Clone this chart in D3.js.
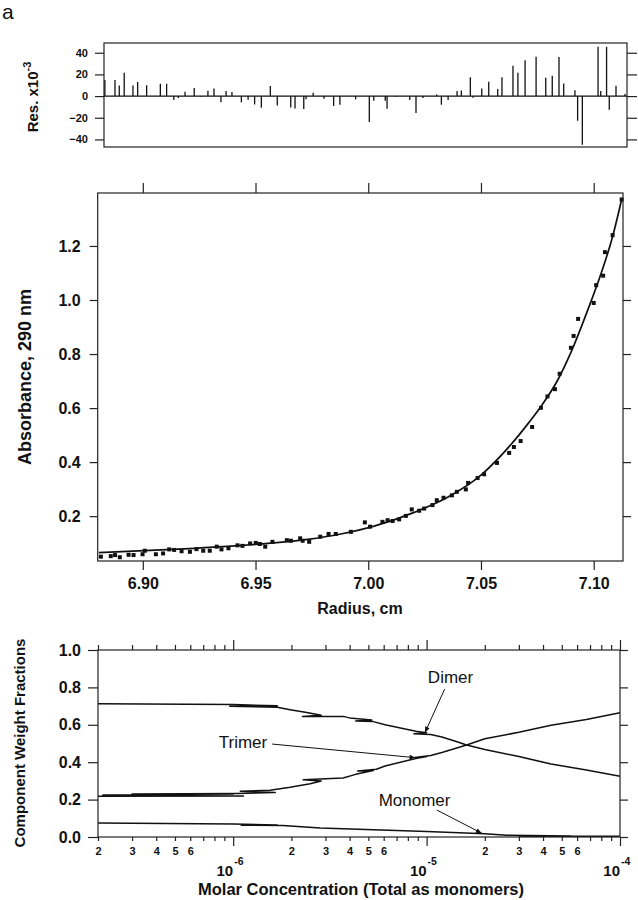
<!DOCTYPE html>
<html>
<head>
<meta charset="utf-8">
<script src="https://cdn.jsdelivr.net/npm/d3@7"></script>
<style>
body { margin:0; background:#fff; }
svg text { font-family:"Liberation Sans", Arial, Helvetica, sans-serif; fill:#111; }
.axis path { display:none; }
.axis line { stroke:#222; stroke-width:1.2; }
</style>
</head>
<body>
<script>
// residuals of the fit (radius in cm, value x10^-3)
var resRadius = [6.8804,6.8849,6.8868,6.8890,6.8929,6.8950,6.8990,6.9051,6.9079,6.9111,6.9131,6.9161,6.9202,6.9232,6.9263,6.9290,6.9321,6.9344,6.9370,6.9412,6.9442,6.9471,6.9501,6.9541,6.9572,6.9632,6.9651,6.9690,6.9700,6.9732,
  6.9780,6.9823,6.9851,6.9921,6.9982,7.0002,7.0053,7.0061,7.0102,7.0162,7.0190,7.0221,7.0282,7.0303,7.0333,7.0373,7.0392,7.0432,7.0444,7.0483,7.0514,7.0554,7.0573,7.0622,7.0644,7.0676,7.0725,7.0768,7.0797,7.0827,7.0848,7.0898,7.0910,7.0931,7.1001,7.1013,7.1039,7.1051,7.1081,7.1121];
var resValue = [14.8,14.8,9.8,21.5,9.8,12.9,10,11.4,11.4,-3.7,-1.8,4,7.4,-0.6,4.9,7,-5.8,4.6,3.7,-5.8,-3.4,-7.7,-10.8,9.2,-8.6,-10.5,-11.4,-12,-3,3,
  -2.5,-9.2,-8,-3,-24,-4.3,-4.3,-11.7,-0.6,-3.7,-15.7,-1.8,1.5,-8,-3.7,4.6,5.2,17.5,-1.5,7,13.2,6.5,17.5,28,21.5,33,36.3,17,18.8,36,11.7,5.5,-22.8,-45,45.5,4.6,45.5,-12.6,9.5,2];

// absorbance scan
var radius = [6.8814,6.8858,6.8877,6.8898,6.8937,6.8959,6.8999,6.9009,6.9058,6.9090,6.9117,6.9139,6.9172,6.9209,6.9238,6.9268,6.9297,6.9328,6.9349,6.9380,6.9420,6.9442,
  6.9476,6.9501,6.9519,6.9543,6.9575,6.9639,6.9657,6.9698,6.9709,6.9738,6.9787,6.9824,6.9856,6.9923,6.9985,7.0008,7.0063,7.0086,
  7.0108,7.0137,7.0167,7.0193,7.0226,7.0248,7.0285,7.0304,7.0334,7.0371,7.0393,7.0433,7.0443,7.0485,7.0514,7.0571,7.0625,
  7.0646,7.0676,7.0727,7.0766,7.0795,7.0828,7.0849,7.0899,7.0911,7.0931,7.1000,7.1011,7.1042,7.1050,7.1084,7.1124];
var absorb = [0.050,0.052,0.056,0.048,0.057,0.056,0.059,0.072,0.059,0.062,0.077,0.075,0.070,0.068,0.078,0.072,0.072,0.087,0.077,0.081,0.092,0.090,
  0.099,0.101,0.097,0.087,0.105,0.111,0.109,0.118,0.109,0.105,0.124,0.134,0.134,0.142,0.177,0.161,0.179,0.185,
  0.182,0.188,0.201,0.225,0.220,0.228,0.241,0.259,0.268,0.277,0.290,0.299,0.323,0.341,0.355,0.397,0.434,
  0.456,0.478,0.530,0.601,0.643,0.670,0.727,0.823,0.867,0.930,0.989,1.055,1.090,1.177,1.240,1.372];

// fitted curve
var fitRadius = [6.8805,6.9132,6.9457,6.9583,6.9731,6.9878,7.0026,7.0204,7.0352,7.0500,7.0633,7.0714,7.0766,7.0840,7.0899,7.0976,7.1032,7.1084,7.1124];
var fitAbs = [0.065,0.077,0.093,0.101,0.114,0.134,0.163,0.214,0.270,0.352,0.465,0.548,0.606,0.703,0.806,0.968,1.096,1.235,1.372];

// component weight fractions vs molar concentration (the back-steps are in the original trace)
var dimer = [[2.0e-7,0.712],[1.0e-6,0.708],[1.69e-6,0.702],[9.6e-7,0.699],[1.69e-6,0.694],[1.97e-6,0.681],[2.4e-6,0.666],
  [2.85e-6,0.651],[2.28e-6,0.644],[3.7e-6,0.645],[4.0e-6,0.637],[5.2e-6,0.626],[4.3e-6,0.620],[5.3e-6,0.617],[6.1e-6,0.600],
  [8.8e-6,0.566],[1.0e-5,0.557],[8.6e-6,0.552],[1.05e-5,0.548],[1.2e-5,0.535],[1.41e-5,0.512],[1.61e-5,0.492],[2.0e-5,0.468],
  [3.0e-5,0.430],[4.4e-5,0.390],[6.7e-5,0.358],[1.0e-4,0.325]];
var trimer = [[2.0e-7,0.218],[1.13e-6,0.219],[2.12e-7,0.224],[1.0e-6,0.228],[3.0e-7,0.230],[1.05e-6,0.233],[1.65e-6,0.238],
  [1.09e-6,0.244],[1.55e-6,0.250],[1.97e-6,0.266],[2.5e-6,0.285],[2.85e-6,0.300],[2.3e-6,0.306],[3.7e-6,0.316],[4.3e-6,0.335],
  [5.3e-6,0.356],[4.4e-6,0.353],[5.5e-6,0.362],[6.1e-6,0.380],[8.8e-6,0.420],[1.0e-5,0.430],[8.7e-6,0.425],[1.05e-5,0.436],
  [1.2e-5,0.452],[1.61e-5,0.492],[2.0e-5,0.525],[3.0e-5,0.560],[4.4e-5,0.598],[6.7e-5,0.628],[1.0e-4,0.665]];
var monomer = [[2.0e-7,0.075],[1.0e-6,0.070],[1.69e-6,0.064],[1.1e-6,0.063],[1.8e-6,0.061],[2.82e-6,0.048],[1.0e-5,0.029],
  [2.0e-5,0.017],[2.6e-5,0.010],[5.6e-5,0.006],[3.0e-5,0.004],[1.0e-4,0.004]];

// labels: [name, textX, textY, fromX, fromY, toX, toY, anchor]
var labels = [
  ["Dimer", 1.33e-5, 0.823, 1.24e-5, 0.791, 9.8e-6, 0.558, "middle"],
  ["Trimer", 1.50e-6, 0.476, 1.59e-6, 0.497, 8.77e-6, 0.424, "end"],
  ["Monomer", 8.67e-6, 0.166, 1.13e-5, 0.144, 1.93e-5, 0.020, "middle"]
];

var resTicks = [-40,-20,0,20,40];
var absTicks = [0.2,0.4,0.6,0.8,1.0,1.2];
var radTicks = [6.90,6.95,7.00,7.05,7.10];
var fracTicks = [0,0.2,0.4,0.6,0.8,1.0];
var decades = [1e-6,1e-5,1e-4];

var svg = d3.select("body").append("svg").attr("width",638).attr("height",900);

svg.append("text").attr("x",2).attr("y",19).style("font-size","21px").text("a");

// ---------- residual panel ----------
var xr = d3.scaleLinear().domain([6.880,7.113]).range([104,627]);
var yr = d3.scaleLinear().domain([-47,49]).range([147,43]);

svg.append("g").attr("class","axis").attr("transform","translate(104,0)")
   .call(d3.axisLeft(yr).tickValues(resTicks).tickSize(9).tickPadding(7))
   .selectAll("text").style("font-size","11px").style("font-weight","bold");
svg.append("g").attr("class","axis").attr("transform","translate(627,0)")
   .call(d3.axisRight(yr).tickValues(resTicks).tickSize(10).tickFormat(""));

svg.append("line").attr("x1",104).attr("x2",627).attr("y1",yr(0)).attr("y2",yr(0))
   .attr("stroke","#111").attr("stroke-width",1.2);
svg.selectAll(".res").data(resRadius).enter().append("line")
   .attr("x1",function(d){return xr(d);}).attr("x2",function(d){return xr(d);})
   .attr("y1",yr(0)).attr("y2",function(d,i){return yr(resValue[i]);})
   .attr("stroke","#111").attr("stroke-width",1.3);
svg.append("rect").attr("x",104).attr("y",43).attr("width",523).attr("height",104)
   .attr("fill","none").attr("stroke","#222").attr("stroke-width",1.2);

var rt = svg.append("text").attr("transform","translate(38,97) rotate(-90)")
   .attr("text-anchor","middle").style("font-size","15px").style("font-weight","bold");
rt.append("tspan").text("Res.  x10");
rt.append("tspan").attr("dy",-7).style("font-size","11px").text("-3");

// ---------- absorbance panel ----------
var xm = d3.scaleLinear().domain([6.880,7.113]).range([97.7,623]);
var ym = d3.scaleLinear().domain([0.034,1.396]).range([561,193]);

svg.append("g").attr("class","axis").attr("transform","translate(0,561)")
   .call(d3.axisBottom(xm).tickValues(radTicks).tickSize(9).tickPadding(8).tickFormat(d3.format(".2f")))
   .selectAll("text").style("font-size","16px").style("font-weight","bold");
svg.append("g").attr("class","axis").attr("transform","translate(0,193)")
   .call(d3.axisTop(xm).tickValues(radTicks).tickSize(10).tickFormat(""));
svg.append("g").attr("class","axis").attr("transform","translate(97.7,0)")
   .call(d3.axisLeft(ym).tickValues(absTicks).tickSize(8).tickPadding(9).tickFormat(d3.format(".1f")))
   .selectAll("text").style("font-size","16px").style("font-weight","bold");
svg.append("g").attr("class","axis").attr("transform","translate(623,0)")
   .call(d3.axisRight(ym).tickValues(absTicks).tickSize(8).tickFormat(""));

var fitLine = d3.line().curve(d3.curveMonotoneX)
   .x(function(d,i){return xm(d);}).y(function(d,i){return ym(fitAbs[i]);});
svg.append("path").attr("d",fitLine(fitRadius)).attr("fill","none")
   .attr("stroke","#111").attr("stroke-width",1.7);

svg.selectAll(".pt").data(radius).enter().append("rect")
   .attr("x",function(d){return xm(d)-2;}).attr("y",function(d,i){return ym(absorb[i])-2;})
   .attr("width",4).attr("height",4).attr("fill","#111");

svg.append("rect").attr("x",97.7).attr("y",193).attr("width",525.3).attr("height",368)
   .attr("fill","none").attr("stroke","#222").attr("stroke-width",1.2);

svg.append("text").attr("x",360).attr("y",614).attr("text-anchor","middle")
   .style("font-size","16px").style("font-weight","bold").text("Radius, cm");
svg.append("text").attr("transform","translate(31,377) rotate(-90)").attr("text-anchor","middle")
   .style("font-size","18px").style("font-weight","bold").text("Absorbance, 290 nm");

// ---------- weight fraction panel ----------
var xb = d3.scaleLog().domain([2e-7,1e-4]).range([98,620]);
var yb = d3.scaleLinear().domain([0,1]).range([837,650]);
var logTicks = xb.ticks();
function mant(v){ var e = Math.floor(Math.log10(v)+1e-9); return Math.round(v/Math.pow(10,e)); }

var gb = svg.append("g").attr("class","axis").attr("transform","translate(0,837)")
   .call(d3.axisBottom(xb).tickValues(logTicks).tickSize(4).tickPadding(6)
     .tickFormat(function(v){ var m = mant(v); return (m>=2 && m<=6) ? m : ""; }));
gb.selectAll(".tick line").attr("y2",function(d){return mant(d)===1 ? 9 : 4;});
gb.selectAll("text").style("font-size","11px").style("font-weight","bold");

var gt = svg.append("g").attr("class","axis").attr("transform","translate(0,650)")
   .call(d3.axisTop(xb).tickValues(logTicks).tickSize(5).tickFormat(""));
gt.selectAll(".tick line").attr("y2",function(d){return mant(d)===1 ? -10 : -5;});

svg.append("g").attr("class","axis").attr("transform","translate(98,0)")
   .call(d3.axisLeft(yb).tickValues(fracTicks).tickSize(10).tickPadding(7).tickFormat(d3.format(".1f")))
   .selectAll("text").style("font-size","16px").style("font-weight","bold");
svg.append("g").attr("class","axis").attr("transform","translate(620,0)")
   .call(d3.axisRight(yb).tickValues(fracTicks).tickSize(8).tickFormat(""));

decades.forEach(function(d){
  svg.append("text").attr("x",xb(d)).attr("y",876).attr("text-anchor","end")
     .style("font-size","15px").style("font-weight","bold").text("10");
  svg.append("text").attr("x",xb(d)+1).attr("y",865).style("font-size","10.5px").style("font-weight","bold")
     .text("-" + Math.round(-Math.log10(d)));
});

var fracLine = d3.line().x(function(d){return xb(d[0]);}).y(function(d){return yb(d[1]);});
[dimer, trimer, monomer].forEach(function(s){
  svg.append("path").attr("d",fracLine(s)).attr("fill","none")
     .attr("stroke","#111").attr("stroke-width",1.5).attr("stroke-linejoin","round");
});

svg.append("defs").append("marker").attr("id","arr").attr("viewBox","0 0 10 10")
   .attr("refX",10).attr("refY",5).attr("markerWidth",8).attr("markerHeight",6)
   .attr("orient","auto").attr("markerUnits","userSpaceOnUse")
   .append("path").attr("d","M0,1 L10,5 L0,9 Z").attr("fill","#111");

labels.forEach(function(l){
  svg.append("text").attr("x",xb(l[1])).attr("y",yb(l[2])).attr("text-anchor",l[7])
     .style("font-size","17px").text(l[0]);
  svg.append("line").attr("x1",xb(l[3])).attr("y1",yb(l[4])).attr("x2",xb(l[5])).attr("y2",yb(l[6]))
     .attr("stroke","#111").attr("stroke-width",1).attr("marker-end","url(#arr)");
});

svg.append("rect").attr("x",98).attr("y",650).attr("width",522).attr("height",187)
   .attr("fill","none").attr("stroke","#222").attr("stroke-width",1.2);

svg.append("text").attr("x",361).attr("y",895).attr("text-anchor","middle")
   .style("font-size","16.5px").style("font-weight","bold").text("Molar Concentration (Total as monomers)");
svg.append("text").attr("transform","translate(25,743) rotate(-90)").attr("text-anchor","middle")
   .style("font-size","15px").style("font-weight","bold").text("Component Weight Fractions");
</script>
</body>
</html>
